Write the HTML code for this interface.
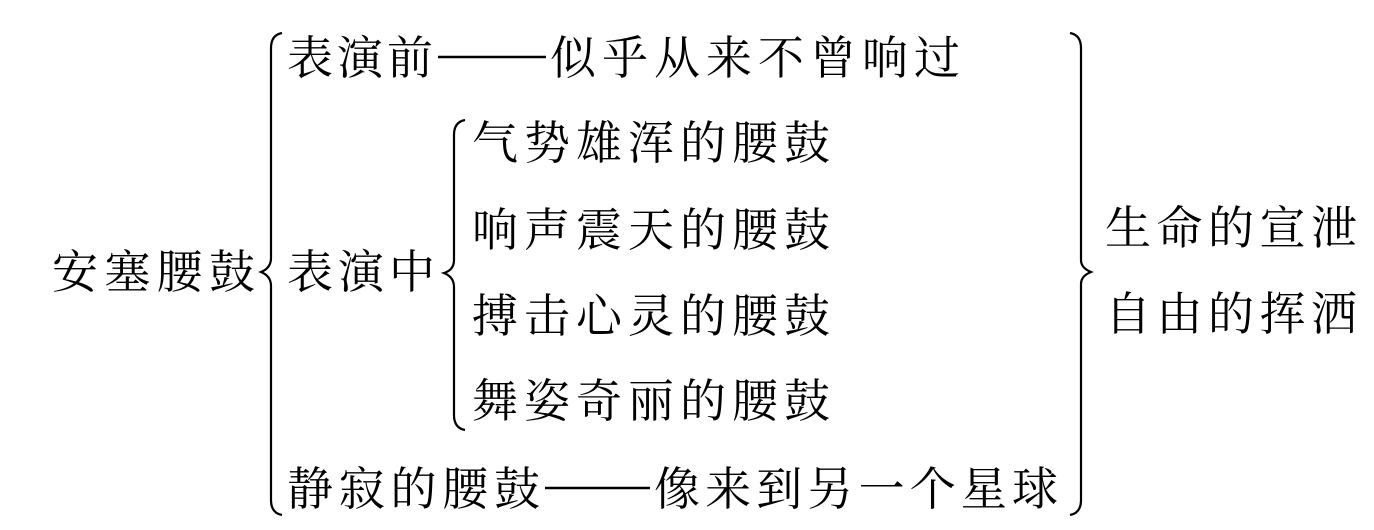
<!DOCTYPE html>
<html><head><meta charset="utf-8"><style>
html,body{margin:0;padding:0;background:#fff;width:1374px;height:530px;overflow:hidden}
text{font-family:"Noto Serif CJK SC","Liberation Serif",serif;font-size:46px;fill:#000}
path{fill:none;stroke:#000;stroke-width:2.2}
line{stroke:#000;stroke-width:2.5}
</style></head><body>
<svg width="1374" height="530" xmlns="http://www.w3.org/2000/svg">
<text x="52" y="288" textLength="203" lengthAdjust="spacing">安塞腰鼓</text>
<path d="M282 33 Q271 35 271 48 L271 258 Q271 268 261 272 Q271 276 271 286 L271 500 Q271 513 282 515"/>
<text x="287" y="74" textLength="146" lengthAdjust="spacing">表演前</text>
<line x1="438" y1="57" x2="546" y2="57"/>
<text x="550" y="74" textLength="410" lengthAdjust="spacing">似乎从来不曾响过</text>
<text x="287" y="288" textLength="148" lengthAdjust="spacing">表演中</text>
<path d="M465 120 Q454 122 454 135 L454 260 Q454 270 444 273 Q454 277 454 287 L454 415 Q454 428 465 430"/>
<text x="472" y="159" textLength="358" lengthAdjust="spacing">气势雄浑的腰鼓</text>
<text x="472" y="246" textLength="358" lengthAdjust="spacing">响声震天的腰鼓</text>
<text x="472" y="332" textLength="358" lengthAdjust="spacing">搏击心灵的腰鼓</text>
<text x="472" y="417" textLength="358" lengthAdjust="spacing">舞姿奇丽的腰鼓</text>
<text x="287" y="505" textLength="253" lengthAdjust="spacing">静寂的腰鼓</text>
<line x1="545" y1="488" x2="650" y2="488"/>
<text x="654" y="505" textLength="404" lengthAdjust="spacing">像来到另一个星球</text>
<path d="M1070 33 Q1081 35 1081 48 L1081 260 Q1081 268 1091 272 Q1081 276 1081 284 L1081 500 Q1081 513 1070 515"/>
<text x="1105" y="244" textLength="252" lengthAdjust="spacing">生命的宣泄</text>
<text x="1105" y="330" textLength="252" lengthAdjust="spacing">自由的挥洒</text>
</svg>
</body></html>
